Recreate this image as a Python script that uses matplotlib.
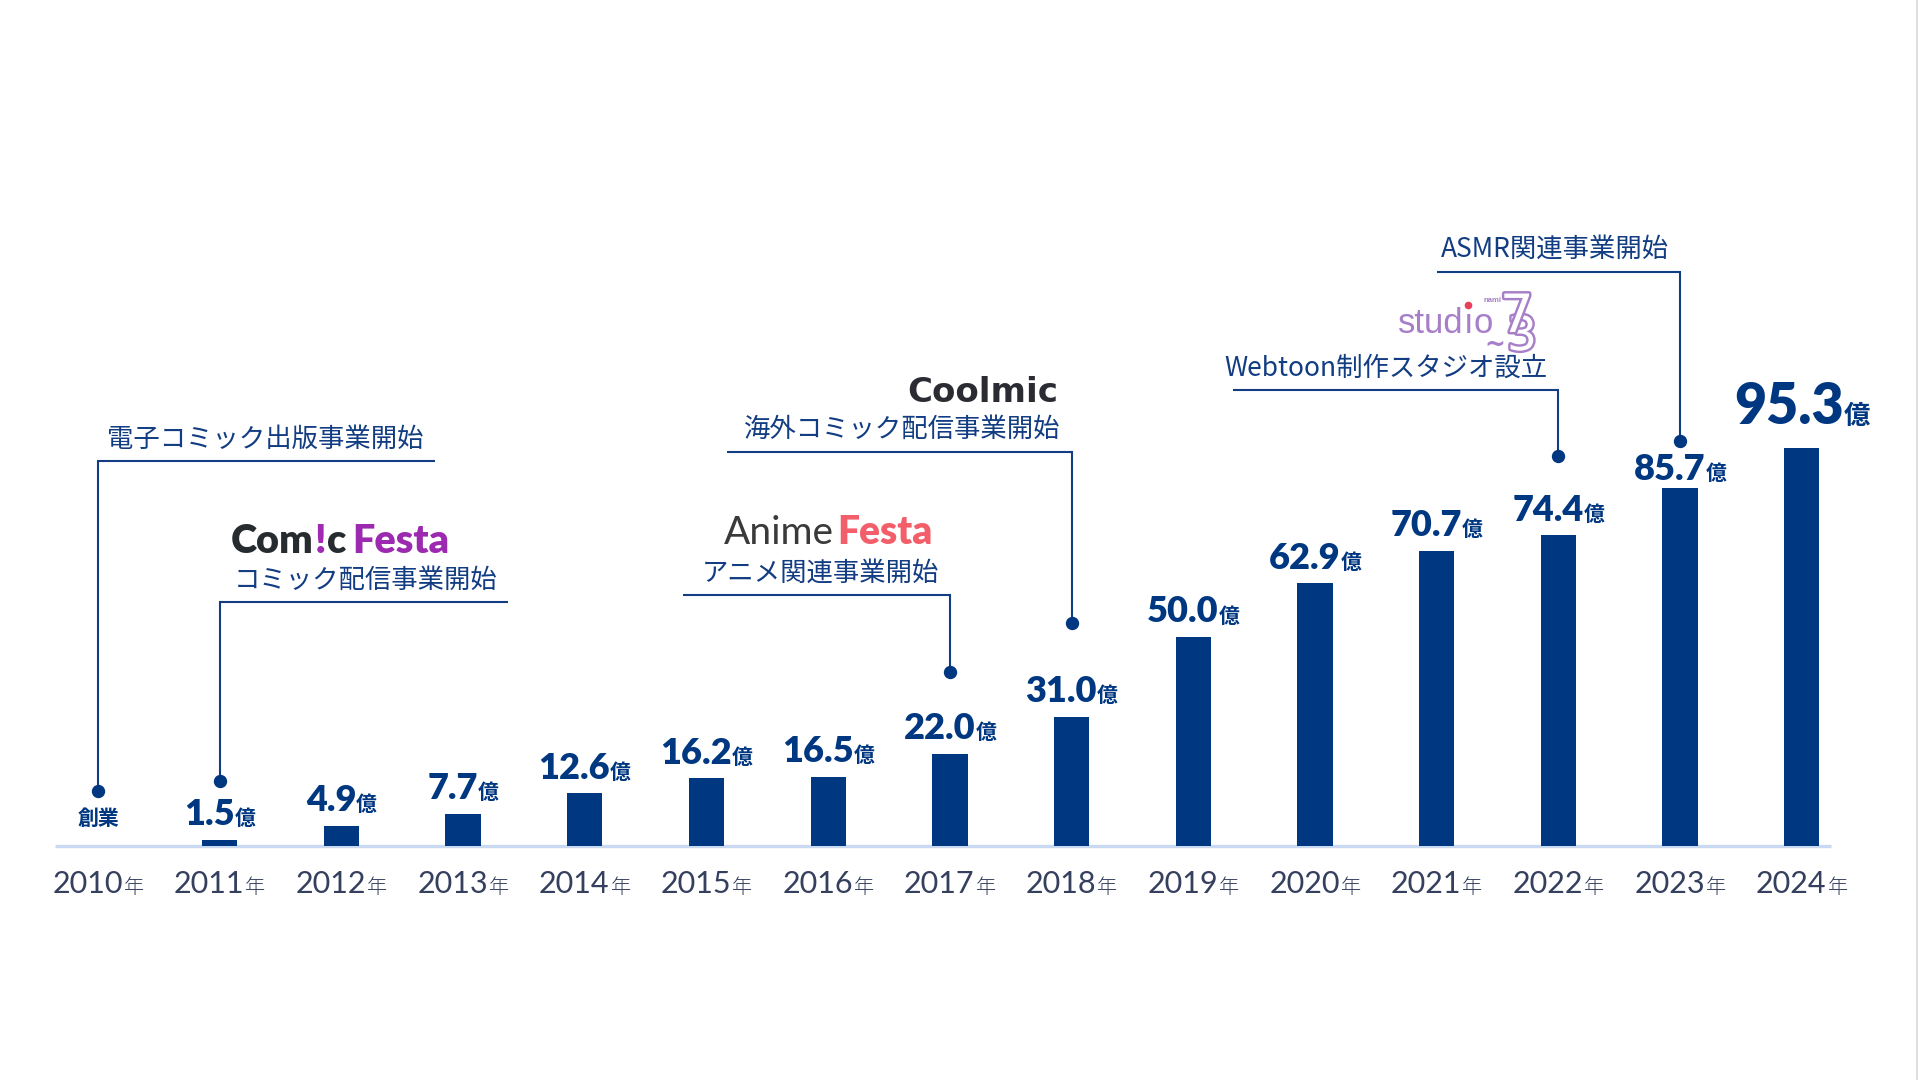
import matplotlib
matplotlib.use("Agg")
import matplotlib.pyplot as plt
import matplotlib.patheffects as pe
from matplotlib.transforms import ScaledTranslation
from matplotlib.lines import Line2D

# --- data (売上高, 億円) ---
years = ['2010', '2011', '2012', '2013', '2014', '2015', '2016', '2017',
         '2018', '2019', '2020', '2021', '2022', '2023', '2024']
sales = [None, 1.5, 4.9, 7.7, 12.6, 16.2, 16.5, 22.0,
         31.0, 50.0, 62.9, 70.7, 74.4, 85.7, 95.3]
founding_label = '創業'
year_suffix = '年'
unit = '億'

milestone_years = ['2010', '2011', '2017', '2018', '2022', '2023']
milestone_texts = ['電子コミック出版事業開始', 'コミック配信事業開始', 'アニメ関連事業開始',
                   '海外コミック配信事業開始', 'Webtoon制作スタジオ設立', 'ASMR関連事業開始']

# --- layout (pixels of the 1920x1080 canvas) ---
W, H = 1920, 1080
X0, DX = 98, 121.7      # px of first category, px between categories
Y0, DY = 846, 4.176     # px (from top) of the baseline, px per 億

NAVY = '#003781'
LINE = '#123d82'
GREY = '#353f5e'
BASE = '#cad9f2'
JP = ['Noto Sans CJK JP', 'DejaVu Sans']
NUM = ['Lato', 'DejaVu Sans']

# dot height, leader height, leader start, leader end, text side (all in chart units)
leaders = [
    (13.2, 92.1, 0.0, 2.77, 'left'),
    (15.5, 58.4, 1.0, 3.37, 'right'),
    (41.6, 60.1, 4.81, 7.0, 'right'),
    (53.4, 94.4, 5.17, 8.0, 'right'),
    (93.5, 109.1, 9.33, 12.0, 'right'),
    (97.1, 137.5, 11.0, 13.0, 'right'),
]
label_gap = {13: 8.6, 14: 24.5}   # px between bar top and value label


def px2x(px):
    return (px - X0) / DX


def px2y(py):
    return (Y0 - py) / DY


def rich(ax, x, y, parts, ha='center', dy=0, sep=0):
    """Put several differently styled strings side by side on one baseline.
    A part may carry a third item: extra px of space before it."""
    fig = ax.figure
    r = fig.canvas.get_renderer()
    arts, widths, gaps = [], [], []
    for n, part in enumerate(parts):
        s, kw = part[0], part[1]
        t = ax.text(x, y, s, ha='left', va='baseline', **kw)
        arts.append(t)
        widths.append(t.get_window_extent(renderer=r).width)
        gaps.append(0 if n == 0 else (part[2] if len(part) > 2 else sep))
    total = sum(widths) + sum(gaps)
    off = {'left': 0, 'center': -total / 2, 'right': -total}[ha]
    for t, w, g in zip(arts, widths, gaps):
        off += g
        t.set_transform(ax.transData + ScaledTranslation(off / fig.dpi, dy / fig.dpi,
                                                         fig.dpi_scale_trans))
        off += w
    return arts


fig = plt.figure(figsize=(W / 100, H / 100), dpi=100)
ax = fig.add_axes([0, 0, 1, 1])
ax.set_xlim(px2x(0), px2x(W))
ax.set_ylim(px2y(H), px2y(0))
ax.axis('off')

idx = list(range(len(years)))

# baseline
ax.plot([px2x(55), px2x(1831)], [0, 0], color=BASE, lw=2.4, solid_capstyle='butt', zorder=1)

# bars
bar_x = [i for i in idx if sales[i] is not None]
bar_v = [sales[i] for i in bar_x]
ax.bar(bar_x, bar_v, width=0.29, color=NAVY, zorder=2)

# value labels
for i in bar_x:
    v = sales[i]
    big = i == len(years) - 1
    rich(ax, i, v, [
        (f'{v:.1f}', dict(family=NUM, weight='heavy', size=40 if big else 26, color=NAVY)),
        (unit, dict(family=JP, weight='bold', size=19 if big else 15, color=NAVY)),
    ], dy=label_gap.get(i, 14.7), sep=0)

ax.text(0, 0, founding_label, ha='center', va='baseline', family=JP, weight='bold',
        size=15, color=NAVY,
        transform=ax.transData + ScaledTranslation(0, 21 / 100, fig.dpi_scale_trans))

# year labels
for i in idx:
    rich(ax, i, 0, [
        (years[i], dict(family=NUM, weight='normal', size=22, color=GREY)),
        (year_suffix, dict(family=JP, weight='light', size=14.5, color=GREY)),
    ], dy=-47, sep=1)

# milestone leaders
for yr, txt, (dot, ly, lx0, lx1, side) in zip(milestone_years, milestone_texts, leaders):
    i = years.index(yr)
    ax.plot([lx0, lx1], [ly, ly], color=LINE, lw=1.5, solid_capstyle='butt', zorder=3)
    ax.plot([i, i], [dot, ly], color=LINE, lw=1.5, zorder=3)
    ax.plot(i, dot, 'o', ms=8.6, color=NAVY, zorder=4)
    if side == 'left':
        tx, ha = lx0 + 0.07, 'left'
    else:
        tx, ha = lx1 - 0.09, 'right'
    ax.annotate(txt, (tx, ly), xytext=(0, 16), textcoords='offset points',
                ha=ha, va='center', family=JP, size=19, color=LINE)

# --- service logos (text approximations) ---
rich(ax, px2x(231), px2y(553), [
    ('Com', dict(family=NUM, weight='heavy', size=28.5, color='#262b2f')),
    ('!', dict(family=NUM, weight='heavy', size=28.5, color='#a12ab3'), 1),
    ('c', dict(family=NUM, weight='heavy', size=28.5, color='#262b2f'), 1),
    ('Festa', dict(family=NUM, weight='heavy', size=28.5, color='#9c2ab0'), 6),
], ha='left')

rich(ax, px2x(932), px2y(544), [
    ('Anime', dict(family=NUM, weight='normal', size=28, color='#3a3a3a')),
    ('Festa', dict(family=NUM, weight='heavy', size=28, color='#f25f6b')),
], ha='right', sep=3)

ax.text(px2x(1058), px2y(402), 'Coolmic', ha='right', va='baseline',
        family='DejaVu Sans', weight='bold', size=24.5, color='#2b2b33')

PURPLE = '#a77fc8'
SANS = ['Liberation Sans', 'DejaVu Sans']
st = rich(ax, px2x(1398), px2y(333), [
    ('stud', dict(family=SANS, size=25, color=PURPLE)),
    ('\u0131', dict(family=SANS, size=25, color=PURPLE)),
    ('o', dict(family=SANS, size=25, color=PURPLE)),
], ha='left')
r = fig.canvas.get_renderer()
bb = st[1].get_window_extent(renderer=r)
dot_xy = ax.transData.inverted().transform((bb.x0 + bb.width / 2, bb.y1 + 2))
ax.plot(dot_xy[0], dot_xy[1], 'o', ms=4.5, color='#e8405a', zorder=5)

ax.text(px2x(1484), px2y(300), 'nami', ha='left', va='center', family=SANS,
        weight='bold', size=5.5, color=PURPLE)
outline = [pe.Stroke(linewidth=3.5, foreground=PURPLE), pe.Normal()]
ax.text(px2x(1507), px2y(350), '3', ha='left', va='baseline', family='DejaVu Sans',
        size=34, color='white', path_effects=outline, zorder=5)
ax.text(px2x(1500), px2y(332), '7', ha='left', va='baseline', family='DejaVu Sans',
        size=38, color='white', path_effects=outline, zorder=6)
ax.text(px2x(1484), px2y(352), '~', ha='left', va='baseline', family='DejaVu Sans',
        weight='bold', size=18, color=PURPLE, zorder=6)

# faint page edge at the right
fig.add_artist(Line2D([0.9985, 0.9985], [0, 1], color='#d8d8d8', lw=1.2))

fig.savefig('out.png', dpi=100, facecolor='white')
